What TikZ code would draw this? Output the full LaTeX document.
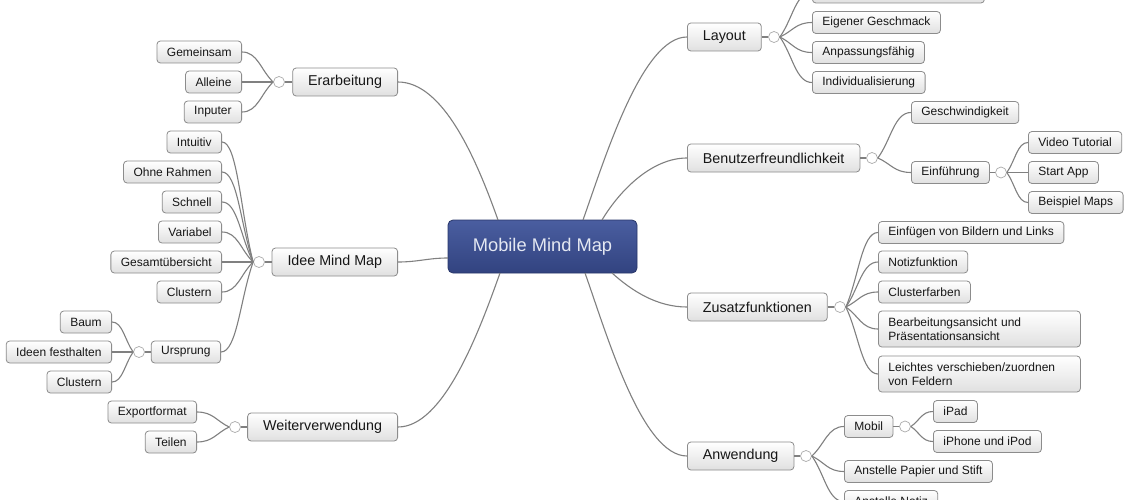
\documentclass[tikz,border=0pt]{standalone}
\usepackage{fontspec}
\setmainfont{Liberation Sans}
\usepackage{tikz}
\usetikzlibrary{calc}
\definecolor{linkgray}{RGB}{128,128,128}
\definecolor{boxline}{RGB}{140,140,140}
\definecolor{boxfill}{RGB}{224,224,224}
\definecolor{hubline}{RGB}{170,170,170}
\definecolor{textgray}{RGB}{22,22,22}
\definecolor{roottop}{RGB}{74,94,160}
\definecolor{rootbottom}{RGB}{50,67,128}
\definecolor{rootline}{RGB}{40,54,105}
\definecolor{roottext}{RGB}{228,232,242}
\tikzset{
    leaf/.style={
            draw=boxline, line width=0.8pt, rounded corners=3.5pt,
            top color=white, bottom color=boxfill,
            minimum height=22pt, inner xsep=10pt, inner ysep=0pt,
            text=textgray, font=\fontsize{12}{14}\selectfont
        },
    twolines/.style={
            text width=182pt, align=left, minimum height=36pt
        },
    topic/.style={
            leaf, minimum height=28pt, inner xsep=15.5pt,
            font=\fontsize{14.3}{17}\selectfont
        },
    root/.style={
            draw=rootline, line width=0.8pt, rounded corners=5pt,
            top color=roottop, bottom color=rootbottom,
            minimum width=189pt, minimum height=53pt,
            text=roottext, font=\fontsize{18.3}{22}\selectfont
        },
    hub/.style={
            circle, draw=hubline, fill=white, line width=0.7pt,
            minimum size=11pt, inner sep=0pt
        },
    link/.style={draw=linkgray, line width=1.1pt},
}
% curved link from a hub to a child on its right / left
\newcommand{\fanright}[2]{\draw[link] (#1.east) .. controls ($(#1.east)!0.4!(#2.west)$) and ($(#2.west)!0.5!(#1.east |- #2.west)$) .. (#2.west);}
\newcommand{\fanleft}[2]{\draw[link] (#1.west) .. controls ($(#1.west)!0.4!(#2.east)$) and ($(#2.east)!0.5!(#1.west |- #2.east)$) .. (#2.east);}

\begin{document}
\begin{tikzpicture}[x=1pt, y=-1pt]
        %picture frame
        \useasboundingbox (0, 0) rectangle (1140, 500);
        \clip (0, 0) rectangle (1140, 500);
        \fill[white] (0, 0) rectangle (1140, 500);
        %central node
        \node[root] (mm) at (542.5, 246.5) {Mobile Mind Map};
        \coordinate (mmtopleft) at (498, 220);
        \coordinate (mmtopright) at (583, 220);
        \coordinate (mmtopfar) at (602, 220);
        \coordinate (mmleft) at (448, 258);
        \coordinate (mmbotleft) at (500, 273);
        \coordinate (mmbotright) at (585, 273);
        \coordinate (mmbotfar) at (612, 273);
        %right side: Layout
        \node[topic, anchor=west] (layout) at (687, 37) {Layout};
        \node[hub] (layouthub) at (774, 37) {};
        \node[leaf, anchor=west, minimum width=172pt] (layouttop) at (812, -8) {};
        \node[leaf, anchor=west] (geschmack) at (812, 22.5) {Eigener Geschmack};
        \node[leaf, anchor=west] (anpassung) at (812, 52.5) {Anpassungsfähig};
        \node[leaf, anchor=west] (individuell) at (812, 82.5) {Individualisierung};
        %right side: Benutzerfreundlichkeit
        \node[topic, anchor=west] (benutzer) at (687, 158) {Benutzerfreundlichkeit};
        \node[hub] (benutzerhub) at (872, 158) {};
        \node[leaf, anchor=west] (tempo) at (911, 112.5) {Geschwindigkeit};
        \node[leaf, anchor=west] (einfuehrung) at (911, 172.5) {Einführung};
        \node[hub] (einfuehrunghub) at (1001, 172.5) {};
        \node[leaf, anchor=west] (video) at (1028, 142.5) {Video Tutorial};
        \node[leaf, anchor=west] (startapp) at (1028, 172.5) {Start App};
        \node[leaf, anchor=west] (beispiel) at (1028, 202.5) {Beispiel Maps};
        %right side: Zusatzfunktionen
        \node[topic, anchor=west] (zusatz) at (687, 307) {Zusatzfunktionen};
        \node[hub] (zusatzhub) at (840, 307) {};
        \node[leaf, anchor=west] (bilder) at (878, 232.5) {Einfügen von Bildern und Links};
        \node[leaf, anchor=west] (notiz) at (878, 262) {Notizfunktion};
        \node[leaf, anchor=west] (farben) at (878, 292) {Clusterfarben};
        \node[leaf, twolines, anchor=west] (ansicht) at (878, 329) {Bearbeitungsansicht und\\Präsentationsansicht};
        \node[leaf, twolines, anchor=west] (felder) at (878, 374) {Leichtes verschieben/zuordnen\\von Feldern};
        %right side: Anwendung
        \node[topic, anchor=west] (anwendung) at (687, 456) {Anwendung};
        \node[hub] (anwendunghub) at (806, 456) {};
        \node[leaf, anchor=west] (mobil) at (844, 426.5) {Mobil};
        \node[hub] (mobilhub) at (905, 426.5) {};
        \node[leaf, anchor=west] (ipad) at (933, 411.5) {iPad};
        \node[leaf, anchor=west] (iphone) at (933, 441.5) {iPhone und iPod};
        \node[leaf, anchor=west] (papier) at (844, 471.5) {Anstelle Papier und Stift};
        \node[leaf, anchor=west] (notizersatz) at (844, 501.5) {Anstelle Notiz};
        %left side: Erarbeitung
        \node[topic, anchor=east] (erarbeitung) at (398, 82) {Erarbeitung};
        \node[hub] (erarbeitunghub) at (279, 82) {};
        \node[leaf, anchor=east] (gemeinsam) at (242, 52) {Gemeinsam};
        \node[leaf, anchor=east] (alleine) at (242, 82) {Alleine};
        \node[leaf, anchor=east] (inputer) at (242, 112) {Inputer};
        %left side: Idee Mind Map
        \node[topic, anchor=east] (idee) at (398, 262) {Idee Mind Map};
        \node[hub] (ideehub) at (259, 262) {};
        \node[leaf, anchor=east] (intuitiv) at (222, 142) {Intuitiv};
        \node[leaf, anchor=east] (rahmen) at (222, 172) {Ohne Rahmen};
        \node[leaf, anchor=east] (schnell) at (222, 202) {Schnell};
        \node[leaf, anchor=east] (variabel) at (222, 232) {Variabel};
        \node[leaf, anchor=east] (gesamt) at (222, 262) {Gesamtübersicht};
        \node[leaf, anchor=east] (clustern) at (222, 292) {Clustern};
        \node[leaf, anchor=east] (ursprung) at (221, 352) {Ursprung};
        \node[hub] (ursprunghub) at (139, 352) {};
        \node[leaf, anchor=east] (baum) at (112, 322) {Baum};
        \node[leaf, anchor=east] (festhalten) at (112, 352) {Ideen festhalten};
        \node[leaf, anchor=east] (clusternalt) at (112, 382) {Clustern};
        %left side: Weiterverwendung
        \node[topic, anchor=east] (weiter) at (398, 427) {Weiterverwendung};
        \node[hub] (weiterhub) at (235, 427) {};
        \node[leaf, anchor=east] (export) at (197, 412) {Exportformat};
        \node[leaf, anchor=east] (teilen) at (197, 442) {Teilen};
        %links from the central node
        \draw[link] (mmtopleft) .. controls +(-22, -62) and +(45, 0) .. (erarbeitung.east);
        \draw[link] (mmleft) .. controls +(-20, 0) and +(20, 0) .. (idee.east);
        \draw[link] (mmbotleft) .. controls +(-22, 62) and +(45, 0) .. (weiter.east);
        \draw[link] (mmtopright) .. controls +(22, -62) and +(-45, 0) .. (layout.west);
        \draw[link] (mmtopfar) .. controls +(18, -30) and +(-35, 0) .. (benutzer.west);
        \draw[link] (mmbotfar) .. controls +(20, 18) and +(-30, 0) .. (zusatz.west);
        \draw[link] (mmbotright) .. controls +(22, 62) and +(-45, 0) .. (anwendung.west);
        %links to the hubs
        \draw[link] (layout.east) -- (layouthub.west);
        \draw[link] (benutzer.east) -- (benutzerhub.west);
        \draw[link] (einfuehrung.east) -- (einfuehrunghub.west);
        \draw[link] (zusatz.east) -- (zusatzhub.west);
        \draw[link] (anwendung.east) -- (anwendunghub.west);
        \draw[link] (mobil.east) -- (mobilhub.west);
        \draw[link] (erarbeitung.west) -- (erarbeitunghub.east);
        \draw[link] (idee.west) -- (ideehub.east);
        \draw[link] (ursprung.west) -- (ursprunghub.east);
        \draw[link] (weiter.west) -- (weiterhub.east);
        %links from the hubs
        \fanright{layouthub}{layouttop}
        \fanright{layouthub}{geschmack}
        \fanright{layouthub}{anpassung}
        \fanright{layouthub}{individuell}
        \fanright{benutzerhub}{tempo}
        \fanright{benutzerhub}{einfuehrung}
        \fanright{einfuehrunghub}{video}
        \fanright{einfuehrunghub}{startapp}
        \fanright{einfuehrunghub}{beispiel}
        \fanright{zusatzhub}{bilder}
        \fanright{zusatzhub}{notiz}
        \fanright{zusatzhub}{farben}
        \fanright{zusatzhub}{ansicht}
        \fanright{zusatzhub}{felder}
        \fanright{anwendunghub}{mobil}
        \fanright{anwendunghub}{papier}
        \fanright{anwendunghub}{notizersatz}
        \fanright{mobilhub}{ipad}
        \fanright{mobilhub}{iphone}
        \fanleft{erarbeitunghub}{gemeinsam}
        \fanleft{erarbeitunghub}{alleine}
        \fanleft{erarbeitunghub}{inputer}
        \fanleft{ideehub}{intuitiv}
        \fanleft{ideehub}{rahmen}
        \fanleft{ideehub}{schnell}
        \fanleft{ideehub}{variabel}
        \fanleft{ideehub}{gesamt}
        \fanleft{ideehub}{clustern}
        \fanleft{ideehub}{ursprung}
        \fanleft{ursprunghub}{baum}
        \fanleft{ursprunghub}{festhalten}
        \fanleft{ursprunghub}{clusternalt}
        \fanleft{weiterhub}{export}
        \fanleft{weiterhub}{teilen}
    \end{tikzpicture}
\end{document}
